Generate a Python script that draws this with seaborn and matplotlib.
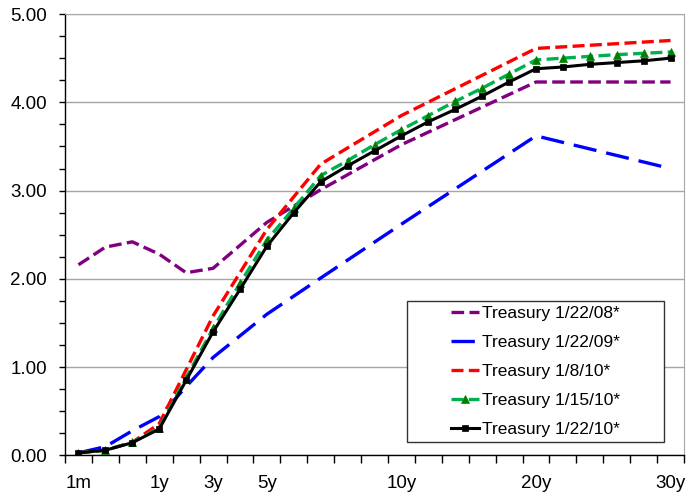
import pandas as pd
import matplotlib
matplotlib.use('Agg')
import matplotlib.pyplot as plt
import seaborn as sns
from matplotlib.patches import Rectangle

plt.rcParams['font.family'] = ['Liberation Sans', 'DejaVu Sans']

# x axis: one slot per maturity (23 slots), only some are labelled
terms = ['1m', '3m', '6m', '1y', '2y', '3y', '4y', '5y', '6y', '7y', '8y', '9y', '10y',
         '12y', '14y', '16y', '18y', '20y', '22y', '24y', '26y', '28y', '30y']
shown_terms = ['1m', '1y', '3y', '5y', '10y', '20y', '30y']

# older curves only have the standard maturities
main_terms = ['1m', '3m', '6m', '1y', '2y', '3y', '5y', '7y', '10y', '20y', '30y']
tsy_080122 = [2.16, 2.36, 2.42, 2.28, 2.07, 2.12, 2.64, 3.01, 3.52, 4.23, 4.23]
tsy_090122 = [0.03, 0.10, 0.28, 0.44, 0.78, 1.11, 1.60, 2.01, 2.62, 3.62, 3.25]
tsy_100108 = [0.03, 0.06, 0.15, 0.36, 0.97, 1.58, 2.56, 3.30, 3.85, 4.61, 4.70]

# full curves (every slot)
tsy_100115 = [0.03, 0.06, 0.15, 0.31, 0.88, 1.44, 1.95, 2.44, 2.80, 3.17, 3.34, 3.52,
              3.69, 3.85, 4.01, 4.16, 4.32, 4.48, 4.50, 4.52, 4.54, 4.555, 4.57]
tsy_100122 = [0.03, 0.06, 0.145, 0.30, 0.85, 1.40, 1.88, 2.37, 2.75, 3.10, 3.28, 3.45,
              3.62, 3.78, 3.92, 4.07, 4.23, 4.38, 4.40, 4.43, 4.45, 4.47, 4.50]


def to_df(term_list, values):
    return pd.DataFrame({'pos': [terms.index(t) for t in term_list], 'rate': values})


series = [
    ('Treasury 1/22/08*', to_df(main_terms, tsy_080122),
     dict(color='#800080', linestyle=(0, (3.8, 1.6)), lw=2.4)),
    ('Treasury 1/22/09*', to_df(main_terms, tsy_090122),
     dict(color='#0000ff', linestyle=(0, (7, 3)), lw=2.4)),
    ('Treasury 1/8/10*', to_df(main_terms, tsy_100108),
     dict(color='#ff0000', linestyle=(0, (3.6, 1.6)), lw=2.4)),
    ('Treasury 1/15/10*', to_df(terms, tsy_100115),
     dict(color='#00b050', linestyle=(0, (3.6, 1.6)), lw=2.4,
          marker='^', markersize=5.5, mfc='#008000', mec='#008000', mew=0.5)),
    ('Treasury 1/22/10*', to_df(terms, tsy_100122),
     dict(color='black', linestyle='-', lw=2.2,
          marker='s', markersize=4.8, mfc='black', mec='black', mew=0.5)),
]

fig = plt.figure(figsize=(6.86, 4.95), dpi=100)
ax = fig.add_axes([0.0948, 0.0798, 0.9023, 0.8919])

for name, df, kw in series:
    sns.lineplot(data=df, x='pos', y='rate', ax=ax, label=name,
                 estimator=None, sort=True, **kw)

# axes
ax.set_xlim(-0.5, len(terms) - 0.5)
ax.set_ylim(0, 5)
ax.set_xlabel('')
ax.set_ylabel('')

ax.set_xticks([terms.index(t) for t in shown_terms], shown_terms)
ax.set_xticks([i - 0.5 for i in range(len(terms) + 1)], minor=True)
ax.tick_params(axis='x', which='major', length=0, pad=14, labelsize=13.5)
ax.tick_params(axis='x', which='minor', length=6, width=1, direction='out')

ax.set_yticks([0, 1, 2, 3, 4, 5], ['%.2f' % v for v in [0, 1, 2, 3, 4, 5]])
ax.set_yticks([v * 0.25 for v in range(21)], minor=True)
ax.tick_params(axis='y', which='both', length=4, width=1, direction='out', pad=9, labelsize=13.5)

ax.yaxis.grid(True, color='#a6a6a6', lw=1)
ax.set_axisbelow(True)
for side in ['top', 'right']:
    ax.spines[side].set_color('#a6a6a6')
for side in ['left', 'bottom']:
    ax.spines[side].set_color('black')
    ax.spines[side].set_linewidth(1)

# legend box (excel style, wide frame)
ax.add_patch(Rectangle((0.5525, 0.0317), 0.4152, 0.319, transform=ax.transAxes,
                       facecolor='white', edgecolor='#333333', lw=1, zorder=3))
leg = ax.legend(loc='center', bbox_to_anchor=(0.760, 0.191), frameon=False,
                fontsize=12.5, handlelength=1.6, handletextpad=0.2, labelspacing=0.8,
                borderaxespad=0)
leg.set_zorder(5)

fig.savefig('out.png', dpi=100)
